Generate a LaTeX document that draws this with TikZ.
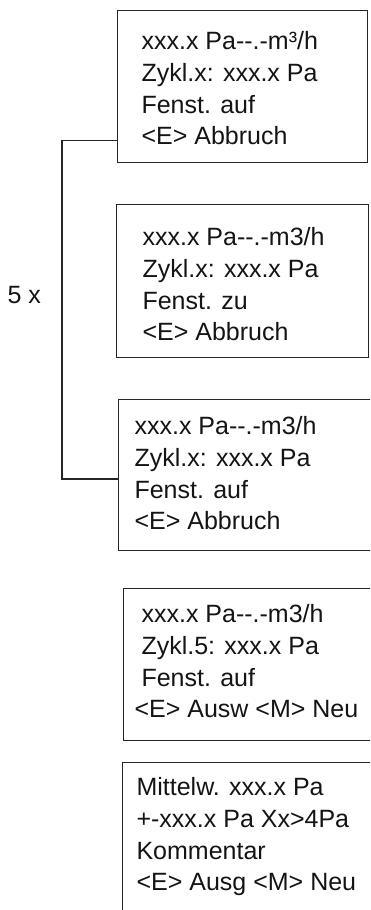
\documentclass[tikz,border=0pt]{standalone}
\usepackage{fontspec}
\setmainfont{Liberation Sans}
\begin{document}
\begin{tikzpicture}[x=1pt,y=-1pt,
  line width=1.1pt,
  frame/.style={draw=black!85, rectangle, inner sep=0pt, anchor=north west},
  screen/.style={anchor=north west, inner sep=0pt, align=left, text=black!92,
    font=\fontsize{25}{31.7}\selectfont},
  label/.style={anchor=base west, inner sep=0pt, text=black!92,
    font=\fontsize{25}{31.7}\selectfont},
  link/.style={draw=black!85}]
\useasboundingbox (0,0) rectangle (370,910);
\clip (0,0) rectangle (370,910);

% display frames
\node[frame, minimum width=250pt, minimum height=152pt] (b1) at (117,10) {};
\node[frame, minimum width=252pt, minimum height=153pt] (b2) at (116,204) {};
\node[frame, minimum width=300pt, minimum height=151pt] (b3) at (118,399) {};
\node[frame, minimum width=300pt, minimum height=152pt] (b4) at (123,588) {};
\node[frame, minimum width=300pt, minimum height=200pt] (b5) at (122,762) {};

% display contents
\node[screen] (t1) at (141,31) {xxx.x Pa-{}-.-m³/h\\Zykl.x: xxx.x Pa\\Fenst. auf\\<E> Abbruch};
\node[screen] (t2) at (142,227) {xxx.x Pa-{}-.-m3/h\\Zykl.x: xxx.x Pa\\Fenst. zu\\<E> Abbruch};
\node[screen] (t3) at (134,416) {xxx.x Pa-{}-.-m3/h\\Zykl.x: xxx.x Pa\\Fenst. auf\\<E> Abbruch};
\node[screen] (t4) at (134,604) {\hspace*{7pt}xxx.x Pa-{}-.-m3/h\\\hspace*{7pt}Zykl.5: xxx.x Pa\\\hspace*{7pt}Fenst. auf\\<E> Ausw <M> Neu};
\node[screen] (t5) at (136,777) {Mittelw. xxx.x Pa\\+-xxx.x Pa Xx>4Pa\\Kommentar\\<E> Ausg <M> Neu};

% repetition bracket
\draw[link] ([yshift=23pt]b1.south west) -- ++(-55,0) |- ([yshift=-80pt]b3.north west);
\node[label] (rep) at (7,303) {5 x};
\end{tikzpicture}
\end{document}
